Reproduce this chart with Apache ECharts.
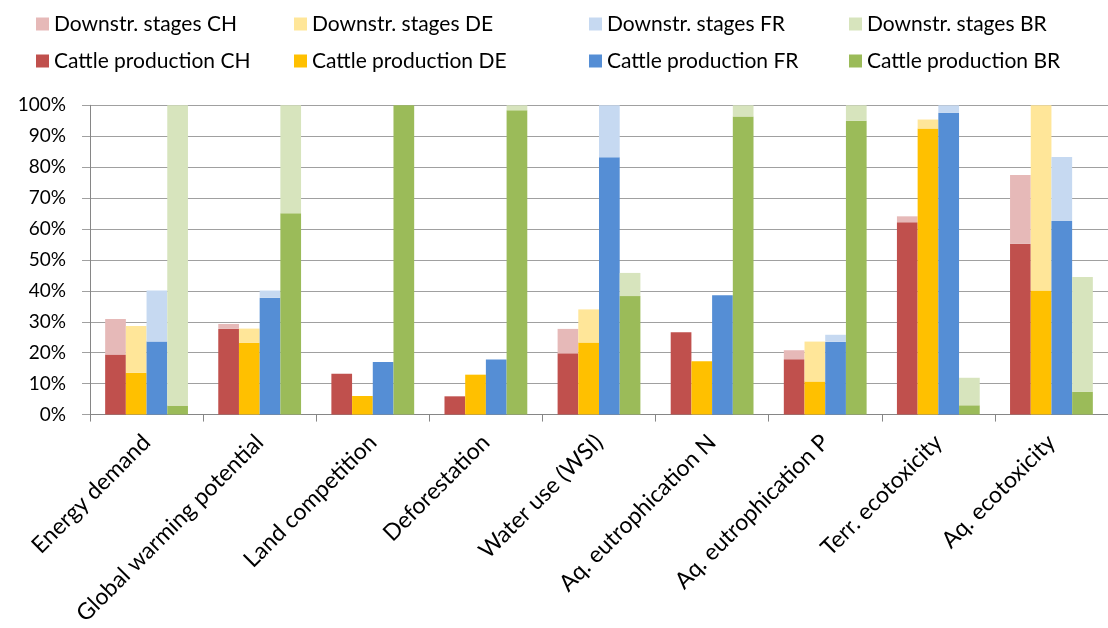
<!DOCTYPE html>
<html>
<head>
<meta charset="utf-8">
<script src="https://cdn.jsdelivr.net/npm/echarts@6/dist/echarts.min.js"></script>
<style>html,body{margin:0;padding:0;background:#fff}#c{width:1108px;height:628px}</style>
</head>
<body>
<div id="c"></div>
<script>
const categories = ["Energy demand","Global warming potential","Land competition","Deforestation","Water use (WSI)","Aq. eutrophication N","Aq. eutrophication P","Terr. ecotoxicity","Aq. ecotoxicity"];
const yTicks = [0,10,20,30,40,50,60,70,80,90,100];
// shares in %
const cattleCH = [19.4, 27.7, 13.2, 5.9, 19.8, 26.6, 17.9, 62.2, 55.2];
const downCH   = [11.5,  1.6,  0.0, 0.0,  7.9,  0.0,  2.9,  1.9, 22.3];
const cattleDE = [13.5, 23.2,  6.0, 12.9, 23.3, 17.2, 10.7, 92.5, 40.1];
const downDE   = [15.1,  4.6,  0.0,  0.0, 10.7,  0.0, 12.9,  2.9, 59.9];
const cattleFR = [23.6, 37.8, 17.0, 17.8, 83.2, 38.6, 23.5, 97.6, 62.6];
const downFR   = [16.5,  2.3,  0.0,  0.0, 16.8,  0.0,  2.3,  2.4, 20.7];
const cattleBR = [ 2.9, 65.1, 100.0, 98.4, 38.3, 96.4, 95.0, 3.0, 7.4];
const downBR   = [97.1, 34.9,  0.0,  1.6,  7.5,  3.6,  5.0,  8.9, 37.1];

const countries = ["CH","DE","FR","BR"];
const cattle = {CH: cattleCH, DE: cattleDE, FR: cattleFR, BR: cattleBR};
const down = {CH: downCH, DE: downDE, FR: downFR, BR: downBR};
const darkCol = {CH:"#C0504D", DE:"#FFC000", FR:"#558ED5", BR:"#9BBB59"};
const lightCol = {CH:"#E6B9B8", DE:"#FFE699", FR:"#C6D9F1", BR:"#D7E4BD"};

const FONT = "Lato";
const series = [];
countries.forEach(c => {
  series.push({name:"Cattle production " + c, type:"bar", stack:c, data:cattle[c], barWidth:20.7, barGap:"0%",
    itemStyle:{color:darkCol[c]}, emphasis:{disabled:true}});
  series.push({name:"Downstr. stages " + c, type:"bar", stack:c, data:down[c], barWidth:20.7, barGap:"0%",
    itemStyle:{color:lightCol[c]}, emphasis:{disabled:true}});
});

const legendLefts = [36, 294, 589, 849];
const legends = countries.map((c, i) => ({
  orient:"vertical", left:legendLefts[i], top:12, itemWidth:13, itemHeight:13, itemGap:13,
  padding:0, icon:"rect",
  textStyle:{fontFamily:FONT, fontSize:21, color:"#000", lineHeight:24},
  data:["Downstr. stages " + c, "Cattle production " + c],
  selectedMode:false
}));

const chart = echarts.init(document.getElementById("c"), null, {renderer:"canvas"});
chart.setOption({
  animation:false,
  legend: legends,
  grid:{left:90, top:105.3, width:1020, height:310.4, containLabel:false},
  xAxis:{type:"category", data:categories,
    axisLine:{lineStyle:{color:"#868686", width:1}},
    axisTick:{show:true, length:7, alignWithLabel:false, lineStyle:{color:"#868686"}},
    axisLabel:{rotate:45, interval:0, margin:24, fontFamily:FONT, fontSize:23, color:"#000"}},
  yAxis:{type:"value", min:yTicks[0], max:yTicks[yTicks.length-1], interval:10,
    axisLine:{show:true, lineStyle:{color:"#868686"}},
    axisTick:{show:true, length:8, lineStyle:{color:"#A0A0A0"}},
    splitLine:{lineStyle:{color:"#A0A0A0", width:1}},
    axisLabel:{formatter:"{value}%", margin:24, fontFamily:FONT, fontSize:19, color:"#000"}},
  series:series
});
</script>
</body>
</html>
